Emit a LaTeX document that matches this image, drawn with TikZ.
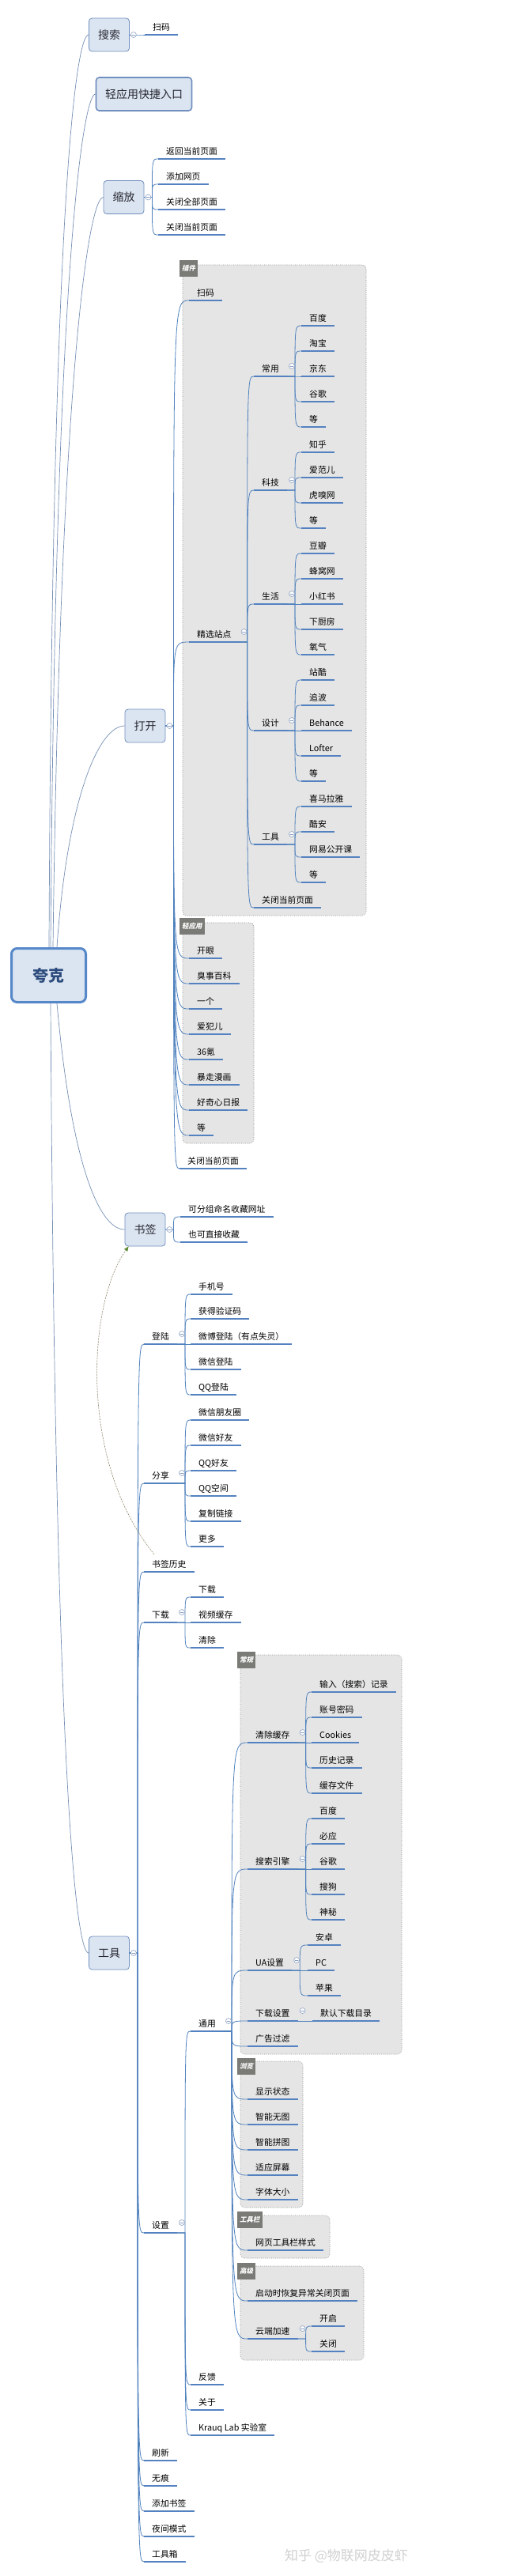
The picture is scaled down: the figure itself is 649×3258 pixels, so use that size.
\documentclass[tikz,border=0pt]{standalone}
\usepackage{fontspec}
\setmainfont{Noto Sans CJK SC}
\newfontfamily\tabfont[FakeSlant=0.2]{Noto Sans CJK SC}
\usetikzlibrary{calc,arrows.meta}
\definecolor{lnblue}{RGB}{79,129,189}
\definecolor{ulblue}{RGB}{84,130,192}
\definecolor{trunkblue}{RGB}{118,143,180}
\definecolor{boxfill}{RGB}{219,229,241}
\definecolor{boxline}{RGB}{112,142,190}
\definecolor{rootline}{RGB}{86,135,200}
\definecolor{roottext}{RGB}{45,75,125}
\definecolor{textdark}{RGB}{40,40,50}
\definecolor{grpfill}{RGB}{229,229,229}
\definecolor{grpline}{RGB}{140,140,140}
\definecolor{tabfill}{RGB}{122,122,118}
\definecolor{knobline}{RGB}{140,160,195}
\definecolor{relline}{RGB}{150,140,115}
\definecolor{relhead}{RGB}{95,140,55}
\begin{document}
\begin{tikzpicture}[x=1pt, y=-1pt, line cap=round,
  leaf/.style={anchor=south west, inner xsep=10pt, inner ysep=3pt, text height=8.5pt, text depth=2.3pt,
    font=\fontsize{10.8}{13}\selectfont, text=black,
    append after command={(\tikzlastnode.south west) edge[uline] (\tikzlastnode.south east)}},
  uline/.style={draw=ulblue, line width=2.6pt, line cap=butt},
  mainbox/.style={draw=boxline, fill=boxfill, line width=0.8pt, rounded corners=4pt, minimum height=42pt,
    inner xsep=11.5pt, font=\fontsize{14}{16}\selectfont, text=textdark},
  rootbox/.style={draw=rootline, fill=boxfill, line width=3pt, rounded corners=7pt, minimum width=94pt,
    minimum height=68pt, font=\fontsize{20}{22}\selectfont\bfseries, text=roottext},
  knob/.style={circle, draw=knobline, fill=white, line width=0.6pt, minimum size=7pt, inner sep=0pt,
    path picture={\draw[knobline, line width=0.6pt] ([xshift=-2pt]path picture bounding box.center) -- ([xshift=2pt]path picture bounding box.center);}},
  branch/.style={draw=lnblue, line width=0.8pt,
    to path={let \p1=(\tikztostart), \p2=(\tikztotarget) in -- ++(10pt,0) .. controls (\x1+10pt,\y2) .. (\tikztotarget)}},
  trunkline/.style={draw=trunkblue, line width=0.7pt},
  grp/.style={draw=grpline, fill=grpfill, dotted, line width=0.6pt, rounded corners=5pt},
  grptab/.style={anchor=north west, fill=tabfill, text=white, inner xsep=3pt, inner ysep=0pt, minimum height=21pt,
    font=\tabfont\fontsize{8.5}{10}\selectfont\bfseries},
  rel/.style={draw=relline, line width=0.6pt, dash pattern=on 2pt off 1.5pt,
    -{Triangle[length=6pt, width=5pt, color=relhead]}},
  wmark/.style={text=black!18, font=\fontsize{17}{19}\selectfont}
]
\useasboundingbox[fill=white] (0,0) rectangle (649,3258);

% groups
\draw[grp] (231,335) rectangle (463,1158);
\node[grptab] (t-cj) at (227,329) {插件};
\draw[grp] (231,1167) rectangle (321,1446);
\node[grptab] (t-qy) at (227,1161) {轻应用};
\draw[grp] (304,2093) rectangle (508,2598);
\node[grptab] (t-cg) at (300,2089) {常规};
\draw[grp] (304,2607) rectangle (383,2792);
\node[grptab] (t-ll) at (300,2603) {浏览};
\draw[grp] (304,2802) rectangle (417,2856);
\node[grptab] (t-gjl) at (300,2797) {工具栏};
\draw[grp] (304,2866) rectangle (460,2985);
\node[grptab] (t-gj) at (300,2862) {高级};

% main topics
\node[rootbox] (kk) at (61.5,1233.5) {夸克};
\node[mainbox] (ss) at (138,44) {搜索};
\node[mainbox, line width=1.6pt] (qy) at (182,119) {轻应用快捷入口};
\node[mainbox] (sf) at (156.5,249.5) {缩放};
\node[mainbox] (dk) at (183.5,918) {打开};
\node[mainbox] (sq) at (183.5,1555) {书签};
\node[mainbox] (gj) at (138,2470) {工具};

% 搜索, 缩放
\node[leaf] (ss1) at (183,44) {扫码};
\node[leaf] (sf1) at (200,201) {返回当前页面};
\node[leaf] (sf2) at (200,233) {添加网页};
\node[leaf] (sf3) at (200,265) {关闭全部页面};
\node[leaf] (sf4) at (200,297) {关闭当前页面};

% 打开
\node[leaf] (dk1) at (239,380) {扫码};
\node[leaf] (dk2) at (239,812) {精选站点};
\node[leaf] (dk3) at (239,1212) {开眼};
\node[leaf] (dk4) at (239,1244) {臭事百科};
\node[leaf] (dk5) at (239,1276) {一个};
\node[leaf] (dk6) at (239,1308) {爱犯儿};
\node[leaf] (dk7) at (239,1340) {36氪};
\node[leaf] (dk8) at (239,1372) {暴走漫画};
\node[leaf] (dk9) at (239,1404) {好奇心日报};
\node[leaf] (dk10) at (239,1436) {等};
\node[leaf] (dk11) at (227,1478) {关闭当前页面};
\node[leaf] (jx1) at (321,476) {常用};
\node[leaf] (jx2) at (321,620) {科技};
\node[leaf] (jx3) at (321,764) {生活};
\node[leaf] (jx4) at (321,924) {设计};
\node[leaf] (jx5) at (321,1068) {工具};
\node[leaf] (jx6) at (321,1148) {关闭当前页面};
\node[leaf] (cy1) at (381,412) {百度};
\node[leaf] (cy2) at (381,444) {淘宝};
\node[leaf] (cy3) at (381,476) {京东};
\node[leaf] (cy4) at (381,508) {谷歌};
\node[leaf] (cy5) at (381,540) {等};
\node[leaf] (kj1) at (381,572) {知乎};
\node[leaf] (kj2) at (381,604) {爱范儿};
\node[leaf] (kj3) at (381,636) {虎嗅网};
\node[leaf] (kj4) at (381,668) {等};
\node[leaf] (sh1) at (381,700) {豆瓣};
\node[leaf] (sh2) at (381,732) {蜂窝网};
\node[leaf] (sh3) at (381,764) {小红书};
\node[leaf] (sh4) at (381,796) {下厨房};
\node[leaf] (sh5) at (381,828) {氧气};
\node[leaf] (sj1) at (381,860) {站酷};
\node[leaf] (sj2) at (381,892) {追波};
\node[leaf] (sj3) at (381,924) {Behance};
\node[leaf] (sj4) at (381,956) {Lofter};
\node[leaf] (sj5) at (381,988) {等};
\node[leaf] (tl1) at (381,1020) {喜马拉雅};
\node[leaf] (tl2) at (381,1052) {酷安};
\node[leaf] (tl3) at (381,1084) {网易公开课};
\node[leaf] (tl4) at (381,1116) {等};

% 书签
\node[leaf] (sq1) at (228,1539) {可分组命名收藏网址};
\node[leaf] (sq2) at (228,1571) {也可直接收藏};

% 工具
\node[leaf] (dl) at (182,1700) {登陆};
\node[leaf] (fx) at (182,1876) {分享};
\node[leaf] (lsq) at (182,1988) {书签历史};
\node[leaf] (xz) at (182,2052) {下载};
\node[leaf] (sz) at (182,2824) {设置};
\node[leaf] (sx) at (182,3112) {刷新};
\node[leaf] (wh) at (182,3144) {无痕};
\node[leaf] (tj) at (182,3176) {添加书签};
\node[leaf] (yj) at (182,3208) {夜间模式};
\node[leaf] (gjx) at (182,3240) {工具箱};
\node[leaf] (dl1) at (241,1637) {手机号};
\node[leaf] (dl2) at (241,1668) {获得验证码};
\node[leaf] (dl3) at (241,1700) {微博登陆（有点失灵）};
\node[leaf] (dl4) at (241,1732) {微信登陆};
\node[leaf] (dl5) at (241,1764) {QQ登陆};
\node[leaf] (fx1) at (241,1796) {微信朋友圈};
\node[leaf] (fx2) at (241,1828) {微信好友};
\node[leaf] (fx3) at (241,1860) {QQ好友};
\node[leaf] (fx4) at (241,1892) {QQ空间};
\node[leaf] (fx5) at (241,1924) {复制链接};
\node[leaf] (fx6) at (241,1956) {更多};
\node[leaf] (xz1) at (241,2020) {下载};
\node[leaf] (xz2) at (241,2052) {视频缓存};
\node[leaf] (xz3) at (241,2084) {清除};
\node[leaf] (ty) at (241,2569) {通用};
\node[leaf] (fk) at (241,3016) {反馈};
\node[leaf] (gy) at (241,3048) {关于};
\node[leaf] (lab) at (241,3080) {Krauq Lab 实验室};
\node[leaf] (qc) at (313,2204) {清除缓存};
\node[leaf] (ys) at (313,2364) {搜索引擎};
\node[leaf] (ua) at (313,2492) {UA设置};
\node[leaf] (xs) at (313,2556) {下载设置};
\node[leaf] (gg) at (313,2588) {广告过滤};
\node[leaf] (xszt) at (313,2655) {显示状态};
\node[leaf] (zw) at (313,2687) {智能无图};
\node[leaf] (zp) at (313,2719) {智能拼图};
\node[leaf] (sy) at (313,2751) {适应屏幕};
\node[leaf] (zt) at (313,2782) {字体大小};
\node[leaf] (gjl) at (313,2846) {网页工具栏样式};
\node[leaf] (hf) at (313,2910) {启动时恢复异常关闭页面};
\node[leaf] (yd) at (313,2958) {云端加速};
\node[leaf] (qc1) at (394,2140) {输入（搜索）记录};
\node[leaf] (qc2) at (394,2172) {账号密码};
\node[leaf] (qc3) at (394,2204) {Cookies};
\node[leaf] (qc4) at (394,2236) {历史记录};
\node[leaf] (qc5) at (394,2268) {缓存文件};
\node[leaf] (ys1) at (394,2300) {百度};
\node[leaf] (ys2) at (394,2332) {必应};
\node[leaf] (ys3) at (394,2364) {谷歌};
\node[leaf] (ys4) at (394,2396) {搜狗};
\node[leaf] (ys5) at (394,2428) {神秘};
\node[leaf] (ua1) at (389,2460) {安卓};
\node[leaf] (ua2) at (389,2492) {PC};
\node[leaf] (ua3) at (389,2524) {苹果};
\node[leaf] (xs1) at (395,2556) {默认下载目录};
\node[leaf] (yd1) at (394,2942) {开启};
\node[leaf] (yd2) at (394,2974) {关闭};

% root connectors
\draw[trunkline] ([xshift=0.5pt]kk.north) .. controls (66,250) and (96,44) .. (ss.west);
\draw[trunkline] ([xshift=2.5pt]kk.north) .. controls (70,320) and (106,119) .. (qy.west);
\draw[trunkline] ([xshift=5.5pt]kk.north) .. controls (76,480) and (112,249.5) .. (sf.west);
\draw[trunkline] ([xshift=10.5pt]kk.north) .. controls (85,1010) and (125,918) .. (dk.west);
\draw[trunkline] ([xshift=10.5pt]kk.south) .. controls (90,1470) and (125,1555) .. (sq.west);
\draw[trunkline] ([xshift=2.5pt]kk.south) .. controls (70,2250) and (96,2470) .. (gj.west);

% branches
\path (ss.east) edge[branch] (ss1.south west);
\path (sf.east) edge[branch] (sf1.south west) edge[branch] (sf2.south west) edge[branch] (sf3.south west)
  edge[branch] (sf4.south west);
\path (dk.east) edge[branch] (dk1.south west) edge[branch] (dk2.south west) edge[branch] (dk3.south west)
  edge[branch] (dk4.south west) edge[branch] (dk5.south west) edge[branch] (dk6.south west)
  edge[branch] (dk7.south west) edge[branch] (dk8.south west) edge[branch] (dk9.south west)
  edge[branch] (dk10.south west) edge[branch] (dk11.south west);
\path (dk2.south east) edge[branch] (jx1.south west) edge[branch] (jx2.south west) edge[branch] (jx3.south west)
  edge[branch] (jx4.south west) edge[branch] (jx5.south west) edge[branch] (jx6.south west);
\path (jx1.south east) edge[branch] (cy1.south west) edge[branch] (cy2.south west) edge[branch] (cy3.south west)
  edge[branch] (cy4.south west) edge[branch] (cy5.south west);
\path (jx2.south east) edge[branch] (kj1.south west) edge[branch] (kj2.south west) edge[branch] (kj3.south west)
  edge[branch] (kj4.south west);
\path (jx3.south east) edge[branch] (sh1.south west) edge[branch] (sh2.south west) edge[branch] (sh3.south west)
  edge[branch] (sh4.south west) edge[branch] (sh5.south west);
\path (jx4.south east) edge[branch] (sj1.south west) edge[branch] (sj2.south west) edge[branch] (sj3.south west)
  edge[branch] (sj4.south west) edge[branch] (sj5.south west);
\path (jx5.south east) edge[branch] (tl1.south west) edge[branch] (tl2.south west) edge[branch] (tl3.south west)
  edge[branch] (tl4.south west);
\path (sq.east) edge[branch] (sq1.south west) edge[branch] (sq2.south west);
\path (gj.east) edge[branch] (dl.south west) edge[branch] (fx.south west) edge[branch] (lsq.south west)
  edge[branch] (xz.south west) edge[branch] (sz.south west) edge[branch] (sx.south west)
  edge[branch] (wh.south west) edge[branch] (tj.south west) edge[branch] (yj.south west)
  edge[branch] (gjx.south west);
\path (dl.south east) edge[branch] (dl1.south west) edge[branch] (dl2.south west) edge[branch] (dl3.south west)
  edge[branch] (dl4.south west) edge[branch] (dl5.south west);
\path (fx.south east) edge[branch] (fx1.south west) edge[branch] (fx2.south west) edge[branch] (fx3.south west)
  edge[branch] (fx4.south west) edge[branch] (fx5.south west) edge[branch] (fx6.south west);
\path (xz.south east) edge[branch] (xz1.south west) edge[branch] (xz2.south west) edge[branch] (xz3.south west);
\path (sz.south east) edge[branch] (ty.south west) edge[branch] (fk.south west) edge[branch] (gy.south west)
  edge[branch] (lab.south west);
\path (ty.south east) edge[branch] (qc.south west) edge[branch] (ys.south west) edge[branch] (ua.south west)
  edge[branch] (xs.south west) edge[branch] (gg.south west) edge[branch] (xszt.south west)
  edge[branch] (zw.south west) edge[branch] (zp.south west) edge[branch] (sy.south west)
  edge[branch] (zt.south west) edge[branch] (gjl.south west) edge[branch] (hf.south west)
  edge[branch] (yd.south west);
\path (qc.south east) edge[branch] (qc1.south west) edge[branch] (qc2.south west) edge[branch] (qc3.south west)
  edge[branch] (qc4.south west) edge[branch] (qc5.south west);
\path (ys.south east) edge[branch] (ys1.south west) edge[branch] (ys2.south west) edge[branch] (ys3.south west)
  edge[branch] (ys4.south west) edge[branch] (ys5.south west);
\path (ua.south east) edge[branch] (ua1.south west) edge[branch] (ua2.south west) edge[branch] (ua3.south west);
\path (xs.south east) edge[branch] (xs1.south west);
\path (yd.south east) edge[branch] (yd1.south west) edge[branch] (yd2.south west);

% collapse knobs
\node[knob] (ss-k) at ([xshift=5pt]ss.east) {};
\node[knob] (sf-k) at ([xshift=5pt]sf.east) {};
\node[knob] (dk-k) at ([xshift=5pt]dk.east) {};
\node[knob] (sq-k) at ([xshift=5pt]sq.east) {};
\node[knob] (gj-k) at ([xshift=5pt]gj.east) {};
\node[knob] (dk2-k) at ([xshift=6pt,yshift=13pt]dk2.south east) {};
\node[knob] (jx1-k) at ([xshift=6pt,yshift=13pt]jx1.south east) {};
\node[knob] (jx2-k) at ([xshift=6pt,yshift=13pt]jx2.south east) {};
\node[knob] (jx3-k) at ([xshift=6pt,yshift=13pt]jx3.south east) {};
\node[knob] (jx4-k) at ([xshift=6pt,yshift=13pt]jx4.south east) {};
\node[knob] (jx5-k) at ([xshift=6pt,yshift=13pt]jx5.south east) {};
\node[knob] (dl-k) at ([xshift=6pt,yshift=13pt]dl.south east) {};
\node[knob] (fx-k) at ([xshift=6pt,yshift=13pt]fx.south east) {};
\node[knob] (xz-k) at ([xshift=6pt,yshift=13pt]xz.south east) {};
\node[knob] (sz-k) at ([xshift=6pt,yshift=13pt]sz.south east) {};
\node[knob] (ty-k) at ([xshift=6pt,yshift=13pt]ty.south east) {};
\node[knob] (qc-k) at ([xshift=6pt,yshift=13pt]qc.south east) {};
\node[knob] (ys-k) at ([xshift=6pt,yshift=13pt]ys.south east) {};
\node[knob] (ua-k) at ([xshift=6pt,yshift=13pt]ua.south east) {};
\node[knob] (xs-k) at ([xshift=6pt,yshift=13pt]xs.south east) {};
\node[knob] (yd-k) at ([xshift=6pt,yshift=13pt]yd.south east) {};

% 书签历史 -> 书签
\draw[rel] ([xshift=13pt,yshift=5pt]lsq.north west) .. controls (100,1850) and (110,1650) .. ([xshift=5pt]sq.south west);

\node[wmark] (zh) at (438,3233) {知乎 @物联网皮皮虾};
\end{tikzpicture}
\end{document}
